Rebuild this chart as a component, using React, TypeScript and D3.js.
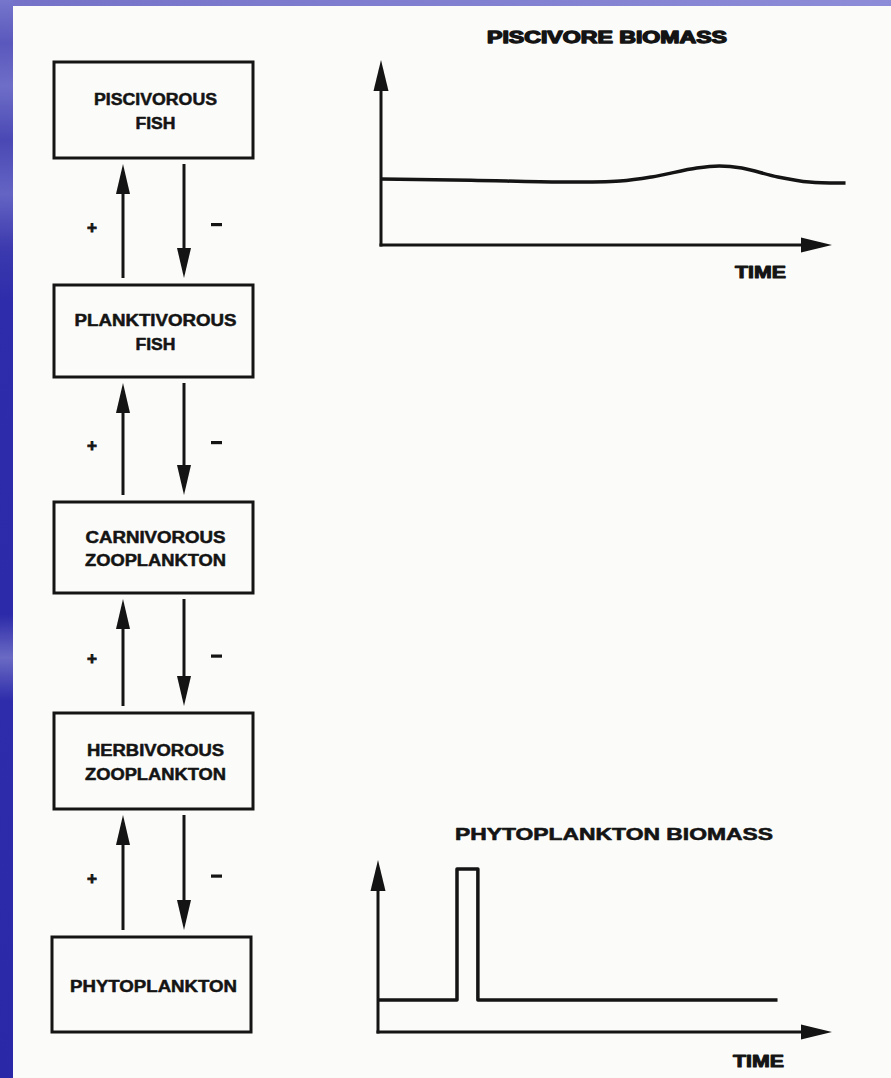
import React from "react";
import * as d3 from "d3";

// ---- data ----
const boxLabels: string[][] = [
  ["PISCIVOROUS", "FISH"],
  ["PLANKTIVOROUS", "FISH"],
  ["CARNIVOROUS", "ZOOPLANKTON"],
  ["HERBIVOROUS", "ZOOPLANKTON"],
  ["PHYTOPLANKTON"],
];
const linkSigns = ["+", "-"];

const piscivoreTime = [0, 20, 40, 53, 60, 70, 75, 80, 88, 95, 103];
const piscivoreBiomass = [35.7, 35, 34, 34.6, 36.8, 41.6, 42.7, 41.6, 36.8, 34, 33.5];

const phytoTime = [0, 17.4, 17.4, 22, 22, 88];
const phytoBiomass = [18.6, 18.6, 94.8, 94.8, 18.6, 18.6];

const chartTitles = ["PISCIVORE BIOMASS", "PHYTOPLANKTON BIOMASS"];
const axisLabel = "TIME";

// ---- layout ----
const W = 891;
const H = 1078;
const boxTops = [62, 285, 502, 713, 937];
const boxBottoms = [158, 377, 593, 809, 1032];
const boxX0 = [54, 54, 54, 54, 52];
const boxW = 199;
const labelWidths: Record<string, number> = {
  PISCIVOROUS: 123,
  FISH: 40,
  PLANKTIVOROUS: 162,
  CARNIVOROUS: 140,
  ZOOPLANKTON: 141,
  HERBIVOROUS: 137,
  PHYTOPLANKTON: 167,
};
const ink = "#141414";
const font = "'Liberation Sans', Arial, sans-serif";

type ChartSpec = {
  title: string;
  titleX: number;
  titleY: number;
  titleW: number;
  x0: number;
  x1: number;
  yTop: number;
  yBase: number;
  timeX: number;
  timeY: number;
  t: number[];
  v: number[];
  curve: d3.CurveFactory;
};

const charts: ChartSpec[] = [
  {
    title: chartTitles[0],
    titleX: 487,
    titleY: 43,
    titleW: 240,
    x0: 381,
    x1: 832,
    yTop: 60,
    yBase: 245,
    timeX: 735,
    timeY: 278,
    t: piscivoreTime,
    v: piscivoreBiomass,
    curve: d3.curveCatmullRom.alpha(0.5),
  },
  {
    title: chartTitles[1],
    titleX: 455,
    titleY: 840,
    titleW: 318,
    x0: 378,
    x1: 832,
    yTop: 860,
    yBase: 1032,
    timeX: 733,
    timeY: 1067,
    t: phytoTime,
    v: phytoBiomass,
    curve: d3.curveLinear,
  },
];

function Chart({ c, heavy }: { c: ChartSpec; heavy: boolean }) {
  const x = d3.scaleLinear().domain([0, 100]).range([c.x0, c.x1]);
  const y = d3.scaleLinear().domain([0, 100]).range([c.yBase, c.yTop]);
  const pts = c.t.map((t, i) => [t, c.v[i]] as [number, number]);
  const line = d3
    .line<[number, number]>()
    .x((d) => x(d[0]))
    .y((d) => y(d[1]))
    .curve(c.curve);
  const headL = 31;
  const headW = 7.5;
  const ax = x(0);
  const tipY = y(100);
  const tipX = x(100);
  return (
    <g>
      <text
        x={c.titleX}
        y={c.titleY}
        textLength={c.titleW}
        lengthAdjust="spacingAndGlyphs"
        fontFamily={font}
        fontWeight="bold"
        fontSize={heavy ? 16 : 17}
        fill={ink}
        stroke={ink}
        strokeWidth={heavy ? 1.3 : 0.6}
        strokeLinejoin="round"
      >
        {c.title}
      </text>
      {/* y axis */}
      <line x1={ax} y1={c.yBase + 1.5} x2={ax} y2={tipY + headL - 4} stroke={ink} strokeWidth={3} />
      <path
        d={`M${ax},${tipY} L${ax - headW},${tipY + headL} L${ax + headW},${tipY + headL} Z`}
        fill={ink}
      />
      {/* x axis */}
      <line x1={ax - 1.5} y1={c.yBase} x2={tipX - headL + 4} y2={c.yBase} stroke={ink} strokeWidth={3} />
      <path
        d={`M${tipX},${c.yBase} L${tipX - headL},${c.yBase - headW} L${tipX - headL},${c.yBase + headW} Z`}
        fill={ink}
      />
      <path d={line(pts) || ""} fill="none" stroke={ink} strokeWidth={3.5} strokeLinejoin="round" />
      <text
        x={c.timeX}
        y={c.timeY}
        textLength={51}
        lengthAdjust="spacingAndGlyphs"
        fontFamily={font}
        fontWeight="bold"
        fontSize={17}
        fill={ink}
        stroke={ink}
        strokeWidth={1}
        strokeLinejoin="round"
      >
        {axisLabel}
      </text>
    </g>
  );
}

export default function App() {
  const upX = 123;
  const downX = 184;
  const headL = 30;
  const headW = 7;
  return (
    <svg
      width={W}
      height={H}
      viewBox={`0 0 ${W} ${H}`}
      style={{ position: "absolute", left: 0, top: 0, display: "block" }}
    >
      <defs>
        <linearGradient id="side" x1="0" y1="0" x2="0" y2="1">
          <stop offset="0" stopColor="#7676cc" />
          <stop offset="0.04" stopColor="#5a58bc" />
          <stop offset="0.08" stopColor="#6e6ec8" />
          <stop offset="0.13" stopColor="#4a48b4" />
          <stop offset="0.18" stopColor="#6464c4" />
          <stop offset="0.23" stopColor="#3c3aae" />
          <stop offset="0.28" stopColor="#2e2caa" />
          <stop offset="0.57" stopColor="#2c2aa8" />
          <stop offset="0.61" stopColor="#6a6ac4" />
          <stop offset="0.65" stopColor="#2e2caa" />
          <stop offset="1" stopColor="#2a28a6" />
        </linearGradient>
        <linearGradient id="topband" x1="0" y1="0" x2="1" y2="0">
          <stop offset="0" stopColor="#7472c8" />
          <stop offset="1" stopColor="#8c8cd8" />
        </linearGradient>
      </defs>
      <rect x={0} y={0} width={W} height={H} fill="#fbfbf9" />
      <rect x={0} y={0} width={W} height={6} fill="url(#topband)" />
      <rect x={0} y={0} width={13} height={H} fill="url(#side)" />

      {boxLabels.map((lines, i) => {
        const top = boxTops[i];
        const bottom = boxBottoms[i];
        const cx = boxX0[i] + boxW / 2 + 2;
        const mid = (top + bottom) / 2;
        const lh = 23.5;
        const firstBase = mid + 7 - ((lines.length - 1) * lh) / 2;
        return (
          <g key={i}>
            <rect
              x={boxX0[i]}
              y={top}
              width={boxW}
              height={bottom - top}
              fill="none"
              stroke={ink}
              strokeWidth={3}
            />
            {lines.map((s, j) => (
              <text
                key={j}
                x={cx}
                y={firstBase + j * lh}
                textAnchor="middle"
                textLength={labelWidths[s]}
                lengthAdjust="spacingAndGlyphs"
                fontFamily={font}
                fontWeight="bold"
                fontSize={16}
                fill={ink}
                stroke={ink}
                strokeWidth={0.5}
                strokeLinejoin="round"
              >
                {s}
              </text>
            ))}
          </g>
        );
      })}

      {boxLabels.slice(0, -1).map((_, i) => {
        const b = boxBottoms[i];
        const t = boxTops[i + 1];
        const tip = b + 6;
        const tail = t - 7;
        const mid = (b + t) / 2;
        return (
          <g key={"g" + i}>
            <line x1={upX} y1={tail} x2={upX} y2={tip + headL - 4} stroke={ink} strokeWidth={3} />
            <path d={`M${upX},${tip} L${upX - headW},${tip + headL} L${upX + headW},${tip + headL} Z`} fill={ink} />
            <line x1={downX} y1={tip} x2={downX} y2={tail - headL + 4} stroke={ink} strokeWidth={3} />
            <path
              d={`M${downX},${tail} L${downX - headW},${tail - headL} L${downX + headW},${tail - headL} Z`}
              fill={ink}
            />
            <text
              x={92}
              y={mid + 11}
              textAnchor="middle"
              fontFamily={font}
              fontWeight="bold"
              fontSize={17}
              fill={ink}
              stroke={ink}
              strokeWidth={0.8}
            >
              {linkSigns[0]}
            </text>
            <rect x={211} y={mid + 1.5} width={11} height={3.2} fill={ink} />
          </g>
        );
      })}

      {charts.map((c, i) => (
        <Chart key={i} c={c} heavy={i === 0} />
      ))}
    </svg>
  );
}
